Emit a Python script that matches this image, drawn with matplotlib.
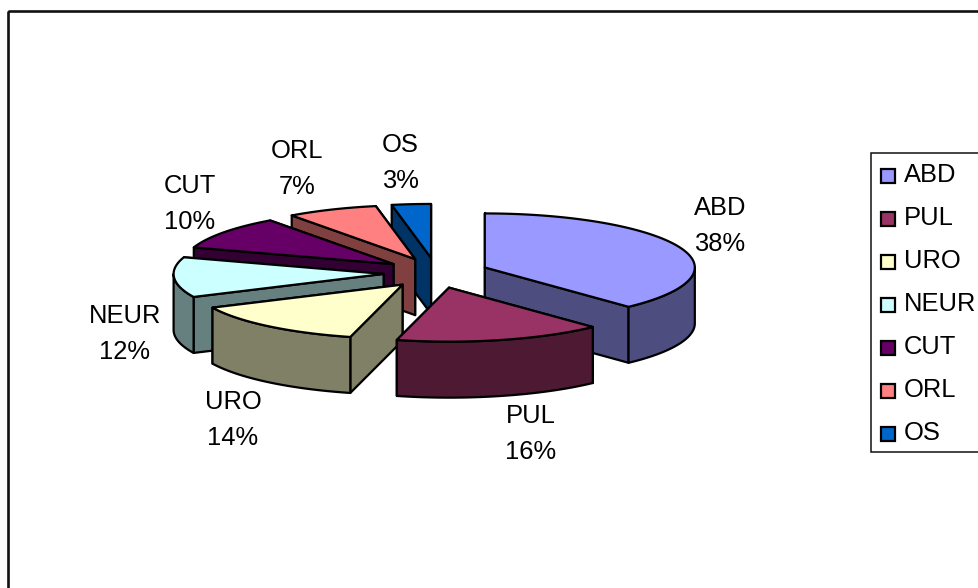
import matplotlib
matplotlib.use('Agg')
import matplotlib.pyplot as plt
from matplotlib.patches import Rectangle
import numpy as np

# dati
categories = ['ABD', 'PUL', 'URO', 'NEUR', 'CUT', 'ORL', 'OS']
values = [38, 16, 14, 12, 10, 7, 3]
top_colors = ['#9999FF', '#993366', '#FFFFCC', '#CCFFFF', '#660066', '#FF8080', '#0066CC']
side_colors = ['#4D4D80', '#4D1933', '#808066', '#668080', '#330033', '#804040', '#003366']

# posizione delle etichette (centro del testo)
label_xy = [(720, 226), (531, 434), (233, 420), (125, 334), (190, 204), (297, 169), (400, 163)]

# geometria della torta in pixel
cx, cy = 436, 273
rx, ry = 210, 54
depth = 56
explode_x = 0.25
explode_y = 0.28

plt.rcParams['font.family'] = ['Liberation Sans', 'DejaVu Sans']
fig = plt.figure(figsize=(9.79, 5.88), dpi=100)
ax = fig.add_axes([0, 0, 1, 1])
ax.set_xlim(0, 979)
ax.set_ylim(588, 0)
ax.axis('off')


def arc(a0, a1, x0, y0):
    # angoli in gradi, in senso orario partendo dalle ore 12
    t = np.radians(np.linspace(a0, a1, 80))
    return x0 + rx * np.sin(t), y0 - ry * np.cos(t)


def poly(xs, ys, color, z):
    ax.fill(xs, ys, facecolor=color, edgecolor='black', linewidth=1.6, joinstyle='round', zorder=z)


# bordo esterno
ax.add_patch(Rectangle((8, 11), 1000, 620, fill=False, edgecolor='#111111', linewidth=1.9))

shares = np.array(values) / sum(values) * 360
starts = np.concatenate(([0], np.cumsum(shares)[:-1]))
ends = starts + shares
# ordine di disegno: prima le fette dietro, poi quelle davanti
draw_order = [6, 5, 4, 3, 2, 0, 1]

for n, i in enumerate(draw_order):
    a0, a1 = starts[i], ends[i]
    mid = np.radians((a0 + a1) / 2)
    x0 = cx + explode_x * rx * np.sin(mid)
    y0 = cy - explode_y * ry * np.cos(mid)
    z = 10 + n * 5
    side = side_colors[i]

    # pareti radiali: quella piu in basso sullo schermo va disegnata dopo
    edges = sorted([a0, a1], key=lambda a: -np.cos(np.radians(a)))
    for k, a in enumerate(edges):
        ex, ey = arc(a, a, x0, y0)
        xs = [x0, ex[0], ex[0], x0]
        ys = [y0, ey[0], ey[0] + depth, y0 + depth]
        poly(xs, ys, side, z + k)

    # parete esterna, solo la parte rivolta verso chi guarda
    w0, w1 = max(a0, 90), min(a1, 270)
    if w1 > w0:
        ax_, ay_ = arc(w0, w1, x0, y0)
        xs = np.concatenate((ax_, ax_[::-1]))
        ys = np.concatenate((ay_, ay_[::-1] + depth))
        poly(xs, ys, side, z + 2)

    # faccia superiore
    tx, ty = arc(a0, a1, x0, y0)
    poly(np.concatenate(([x0], tx)), np.concatenate(([y0], ty)), top_colors[i], z + 3)

# etichette
for name, v, (lx, ly) in zip(categories, values, label_xy):
    ax.text(lx, ly, f'{name}\n{v}%', ha='center', va='center', fontsize=18.4,
            linespacing=1.58, color='black', zorder=60)

# legenda
ax.add_patch(Rectangle((871, 153), 200, 299, facecolor='white', edgecolor='#111111',
                       linewidth=1.1, zorder=70))
for i, name in enumerate(categories):
    y = 176 + i * 43
    ax.add_patch(Rectangle((881, y - 7), 14, 14, facecolor=top_colors[i], edgecolor='black',
                           linewidth=1.6, zorder=71))
    ax.text(904, y - 1, name, ha='left', va='center', fontsize=18.4, color='black', zorder=71)

plt.savefig('out.png', dpi=100)
